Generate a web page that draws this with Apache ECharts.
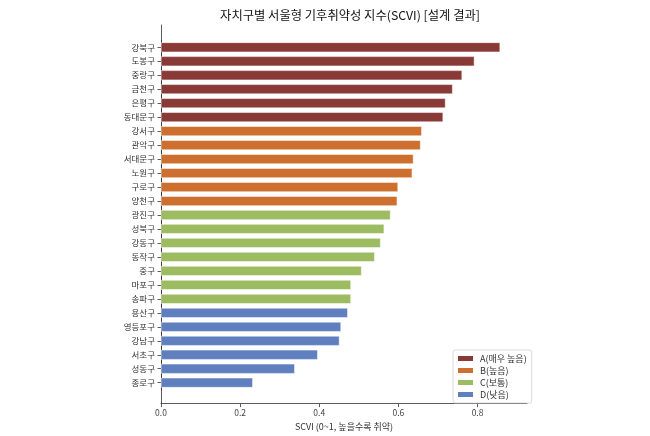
<!DOCTYPE html>
<html>
<head>
<meta charset="utf-8">
<script src="https://cdn.jsdelivr.net/npm/echarts@6/dist/echarts.min.js"></script>
<style>
  html, body { margin: 0; padding: 0; background: #fff; }
  #chart { width: 650px; height: 436px; }
</style>
</head>
<body>
<div id="chart"></div>
<script>
// 자치구 (위에서 아래 순서)
var districts = ['강북구', '도봉구', '중랑구', '금천구', '은평구', '동대문구',
    '강서구', '관악구', '서대문구', '노원구', '구로구', '양천구',
    '광진구', '성북구', '강동구', '동작구', '중구', '마포구', '송파구',
    '용산구', '영등포구', '강남구', '서초구', '성동구', '종로구']
// SCVI 값
var scvi = [0.857, 0.792, 0.761, 0.737, 0.719, 0.713,
    0.659, 0.656, 0.638, 0.635, 0.599, 0.597,
    0.580, 0.564, 0.555, 0.540, 0.507, 0.480, 0.480,
    0.472, 0.455, 0.451, 0.396, 0.338, 0.232]
// 등급
var grades = ['A', 'A', 'A', 'A', 'A', 'A',
    'B', 'B', 'B', 'B', 'B', 'B',
    'C', 'C', 'C', 'C', 'C', 'C', 'C',
    'D', 'D', 'D', 'D', 'D', 'D']
var gradeKeys = ['A', 'B', 'C', 'D']
var gradeNames = ['A(매우 높음)', 'B(높음)', 'C(보통)', 'D(낮음)']
var gradeColors = ['#893a36', '#cd6f2e', '#9dbb61', '#5f7fbf']
var xTicks = [0, 0.2, 0.4, 0.6, 0.8]

var FONT = '"Noto Sans CJK KR", "Noto Sans", sans-serif'
var X_MAX = 0.925

// 등급별 시리즈 (해당 등급이 아닌 칸은 비움)
var series = gradeKeys.map(function (g, gi) {
    return {
        name: gradeNames[gi],
        type: 'bar',
        xAxisIndex: 1,
        yAxisIndex: 1,
        stack: 'all',
        barWidth: '70%',
        itemStyle: { color: gradeColors[gi], borderColor: '#ffffff', borderWidth: 0.5 },
        data: scvi.map(function (v, i) { return grades[i] === g ? v : '-' })
    }
})

var chart = echarts.init(document.getElementById('chart'))
chart.setOption({
    animation: false,
    backgroundColor: '#ffffff',
    textStyle: { fontFamily: FONT },
    title: {
        text: '자치구별 서울형 기후취약성 지수(SCVI) [설계 결과]',
        left: 345,
        textAlign: 'center',
        top: 4,
        textStyle: { fontFamily: FONT, fontSize: 12.3, fontWeight: 'normal', color: '#111' }
    },
    legend: {
        orient: 'vertical',
        left: 453,
        top: 350,
        padding: [3, 5, 3, 3],
        itemWidth: 17,
        itemHeight: 7,
        itemGap: 1,
        borderColor: '#d0d0d0',
        borderWidth: 0.8,
        borderRadius: 2,
        backgroundColor: '#ffffff',
        icon: 'rect',
        data: gradeNames,
        textStyle: { fontFamily: FONT, fontSize: 9, color: '#333', lineHeight: 11, padding: [0, 0, 0, 1] }
    },
    grid: [
        // 축선용 (matplotlib 여백 포함 영역)
        { left: 161, right: 123, top: 25, bottom: 31 },
        // 막대용
        { left: 161, right: 123, top: 40.3, bottom: 46.3 }
    ],
    xAxis: [
        {
            type: 'value',
            gridIndex: 0,
            min: 0,
            max: X_MAX,
            interval: 0.2,
            name: 'SCVI (0~1, 높을수록 취약)',
            nameLocation: 'middle',
            nameGap: 15,
            nameTextStyle: { fontFamily: FONT, fontSize: 9, color: '#333' },
            axisLine: { show: true, lineStyle: { color: '#333', width: 0.8 } },
            axisTick: { show: true, length: 3.5, lineStyle: { color: '#333', width: 0.8 } },
            axisLabel: {
                fontFamily: FONT, fontSize: 8.5, color: '#444', margin: 5,
                showMaxLabel: false,
                formatter: function (v) {
                    return xTicks.indexOf(Math.round(v * 10) / 10) >= 0 ? v.toFixed(1) : ''
                }
            },
            splitLine: { show: false }
        },
        {
            type: 'value',
            gridIndex: 1,
            min: 0,
            max: X_MAX,
            show: false
        }
    ],
    yAxis: [
        {
            type: 'value',
            gridIndex: 0,
            min: 0,
            max: 1,
            axisLine: { show: true, lineStyle: { color: '#333', width: 0.8 } },
            axisTick: { show: false },
            axisLabel: { show: false },
            splitLine: { show: false }
        },
        {
            type: 'category',
            gridIndex: 1,
            inverse: true,
            data: districts,
            axisLine: { show: true, lineStyle: { color: '#333', width: 0.8 } },
            axisTick: { show: true, alignWithLabel: true, length: 3.5, lineStyle: { color: '#333', width: 0.8 } },
            axisLabel: { fontFamily: FONT, fontSize: 8.5, color: '#333', margin: 6 },
            splitLine: { show: false }
        }
    ],
    series: series
})
</script>
</body>
</html>
